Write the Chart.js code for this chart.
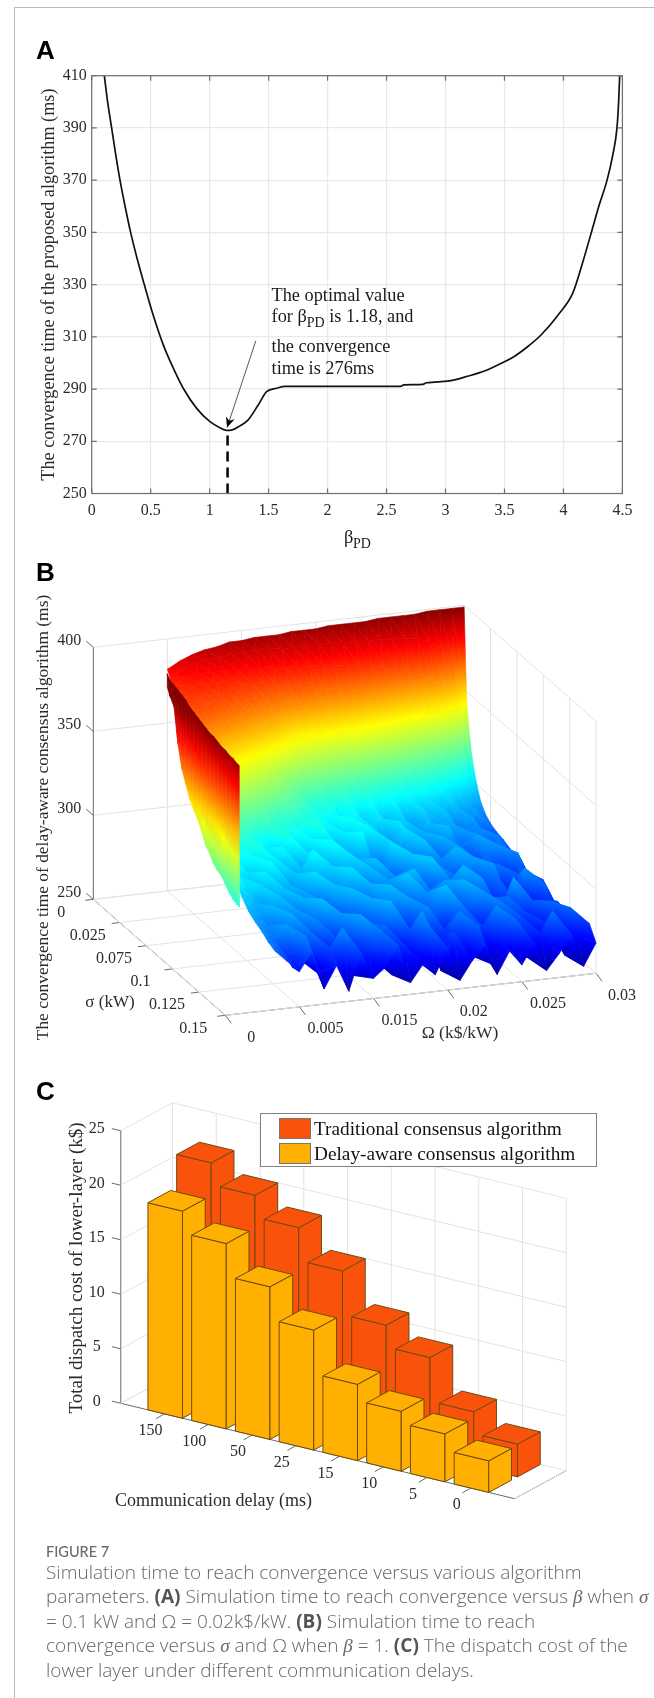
<!DOCTYPE html>
<html>
<head>
<meta charset="utf-8">
<script src="https://cdn.jsdelivr.net/npm/chart.js@4"></script>
<style>
html,body{margin:0;padding:0;background:#fff;}
body{position:relative;width:654px;height:1698px;overflow:hidden;}
canvas{position:absolute;left:0;filter:blur(.4px);}
#frame{position:absolute;left:14px;top:7px;right:0;bottom:0;border-left:1px solid #bdbdbd;border-top:1px solid #bdbdbd;}
.letter{position:absolute;left:36px;font:bold 26px "Liberation Sans",sans-serif;color:#000;line-height:26px;filter:blur(.3px);}
#legend{position:absolute;left:260px;top:1113px;width:335px;height:52px;border:1px solid #808080;background:#fff;font:19.3px "Liberation Serif",serif;color:#111;filter:blur(.35px);}
#legend div{position:absolute;left:53px;white-space:nowrap;line-height:20px;}
#legend i{position:absolute;left:-35px;top:-1px;width:32px;height:21px;border:1px solid #777;box-sizing:border-box;}
#fig{position:absolute;left:46px;top:1543px;font:500 14.5px "Lato",sans-serif;color:#6a6a6a;filter:blur(.3px);}
#cap{position:absolute;left:46px;top:1560px;font:300 19px/24px "Open Sans",sans-serif;color:#666;white-space:nowrap;filter:blur(.3px);}
#cap b{font-weight:700;color:#555;}
#cap em{font-family:"Liberation Serif",serif;}
</style>
</head>
<body>
<div id="frame"></div>
<div class="letter" style="top:37px">A</div>
<div class="letter" style="top:559px">B</div>
<div class="letter" style="top:1078px">C</div>
<canvas id="chartA" width="654" height="520" style="top:40px"></canvas>
<canvas id="chartB" width="654" height="504" style="top:556px"></canvas>
<canvas id="chartC" width="654" height="470" style="top:1060px"></canvas>
<div id="legend">
<div style="top:5px"><i style="background:#f9520b"></i>Traditional consensus algorithm</div>
<div style="top:30px"><i style="background:#ffb000"></i>Delay-aware consensus algorithm</div>
</div>
<div id="fig">FIGURE 7</div>
<div id="cap">Simulation time to reach convergence versus various algorithm<br>parameters. <b>(A)</b> Simulation time to reach convergence versus <em>β</em> when <em>σ</em><br>= 0.1 kW and Ω = 0.02k$/kW. <b>(B)</b> Simulation time to reach<br>convergence versus <em>σ</em> and Ω when <em>β</em> = 1. <b>(C)</b> The dispatch cost of the<br>lower layer under different communication delays.</div>
<script>
const serif='"Liberation Serif",serif';
const inkColor='#2b2b2b';

// ---- panel A
const betaValues=[0.107,0.135,0.169,0.203,0.24,0.283,0.33,0.385,0.446,0.508,0.607,0.692,0.776,0.89,1.003,1.087,1.144,1.186,1.257,1.327,1.412,1.483,1.568,1.638,2.0,2.613,2.648,2.807,2.84,3.02,3.195,3.336,3.478,3.58,3.69,3.81,3.955,4.08,4.16,4.237,4.3,4.37,4.42,4.454,4.468,4.477];
const convergenceTime=[410,400,390,380,370,360,350,340,330,320.3,306.9,298,290.3,282.6,277.5,275.2,274.2,274.3,275.9,278.2,283.9,289,290.3,291,291,291,291.6,291.8,292.4,293,295,297,300,302.4,306,310.7,318.4,326.8,338,350,360,370,380,390,400,410];
const betaTicks=[0,0.5,1,1.5,2,2.5,3,3.5,4,4.5];
const timeTicks=[250,270,290,310,330,350,370,390,410];
const optimalBeta=1.152;
const optimalTime=274.5;
const arrowStart=[1.392,308.5];
const noteLines=[[1.525,325.5,'The optimal value'],[1.525,317.5,'for β'],[1.525,306,'the convergence'],[1.525,297.5,'time is 276ms']];

// ---- panel B
const omegaTicks=['0','0.005','0.015','0.02','0.025','0.03'];
const sigmaTicks=['0','0.025','0.075','0.1','0.125','0.15'];
const surfaceTicks=[250,300,350,400];
const surfaceOmega=[.004,.005,.006,.007,.008,.009,.010,.011,.012,.013,.014,.015,.016,.017,.018,.019,.020,.021,.022,.023,.024,.025,.026,.027,.028,.029,.030];
const surfaceSigma=[0,.003,.0075,.012,.018,.024,.03,.0375,.045,.0525,.06,.0675,.075,.0825,.09,.0975,.105,.1125,.12,.1275,.135,.1425,.15];
const n=null;
const surfaceTime=[
[n,n,382,386,389,391,392,394,394,395,395,395,396,396,396,397,397,397,397,398,398,398,398,399,399,399,399],
[n,n,378,383,385,386,387,388,388,389,389,388,388,388,388,388,387,387,387,387,386,386,385,382,378,368,344],
[n,n,376,380,381,381,381,381,381,380,380,379,379,378,378,377,376,375,374,372,370,368,365,361,356,345,319],
[n,n,375,377,377,377,376,375,374,373,371,370,369,367,366,365,364,362,359,356,352,348,344,338,332,322,305],
[n,378,374,373,373,372,371,369,367,364,361,358,356,354,351,349,347,344,340,336,331,328,323,318,312,304,293],
[n,375,371,371,370,368,365,362,358,354,349,342,339,336,333,331,330,326,322,318,315,312,308,303,298,292,287],
[n,372,368,368,365,361,357,353,348,343,336,328,325,322,319,316,314,311,308,307,302,303,296,297,289,290,284],
[376,366,360,358,354,349,345,340,333,326,318,311,313,305,310,301,306,296,303,291,300,293,297,286,293,281,282],
[370,358,350,347,344,339,333,328,323,318,313,308,307,302,306,298,302,294,299,288,296,285,293,282,290,280,281],
[362,348,338,334,330,325,320,316,312,312,304,308,298,309,293,301,286,303,288,295,281,297,284,291,278,288,279],
[352,338,328,323,318,313,315,305,311,296,312,289,304,284,306,287,279,302,291,273,295,281,270,293,276,286,276],
[342,328,318,313,310,304,298,311,292,306,283,300,292,307,277,301,282,272,298,284,275,291,266,285,290,272,274],
[332,320,310,306,311,294,307,286,302,293,308,276,295,285,273,302,279,294,268,288,296,271,284,279,265,288,272],
[324,313,305,308,292,304,283,297,307,277,291,302,277,298,283,270,298,284,290,271,285,292,266,286,273,281,268],
[318,308,302,290,307,286,298,276,294,300,279,270,297,280,290,275,272,299,275,286,266,280,291,268,283,271,278],
[313,304,292,305,282,296,287,302,273,289,302,282,271,292,274,297,283,267,288,296,270,277,284,265,290,266,274],
[307,300,302,285,298,275,293,277,297,281,268,295,284,276,299,268,285,292,269,279,291,264,281,273,263,284,268],
[300,295,287,298,275,295,270,289,281,297,272,286,297,267,280,290,269,275,295,265,282,272,293,262,278,271,266],
[295,291,296,277,292,281,297,267,285,274,294,265,278,292,271,285,297,264,280,291,266,286,268,282,265,280,264],
[292,289,279,294,268,289,273,291,264,283,276,295,269,262,289,273,264,286,271,260,287,270,279,261,284,267,270],
[290,285,292,271,286,263,281,274,293,266,285,262,281,291,265,276,288,261,277,289,263,281,259,276,264,283,261],
[287,282,270,288,265,279,290,261,275,287,259,276,266,286,258,280,267,283,259,272,284,260,274,286,259,270,276],
[285,278,271,282,259,272,256,278,262,268,280,257,267,260,275,255,266,274,256,269,260,272,255,264,275,255,268]
];
// steep curtain along the low omega side of the surface
const curtainOmega=.0015;
const curtainSigma=[.063,.066,.0705,.075,.0795,.084,.0885,.093,.0975,.102,.1065,.111,.1155,.12,.1245,.129,.1335,.138,.1425,.1448];
const curtainTop=[412,410,409,408,407,406,404,403,402,401,400,399,399,398,397,397,396,396,395,395];
const curtainBottom=[404,400,396,376,363,356,349,345,341,336,330,327,323,321,320,317,314,312,311,311];

// ---- panel C
const delayLabels=['150','100','50','25','15','10','5','0'];
const traditionalCost=[22,20,18,15,11,9,5,3];
const delayAwareCost=[19,17,14,11,7,5.5,4.4,2.9];
const costTicks=[0,5,10,15,20,25];

// ---------- panel A chart
function boxPlugin(){
  return {id:'box',afterDatasetsDraw(chart){
    const c=chart.ctx,a=chart.chartArea,x=chart.scales.x,y=chart.scales.y;
    c.save();
    c.strokeStyle='#707070';c.lineWidth=1.2;
    c.strokeRect(a.left,a.top,a.right-a.left,a.bottom-a.top);
    c.beginPath();
    betaTicks.forEach(t=>{const p=x.getPixelForValue(t);c.moveTo(p,a.bottom);c.lineTo(p,a.bottom-5);c.moveTo(p,a.top);c.lineTo(p,a.top+5);});
    timeTicks.forEach(t=>{const p=y.getPixelForValue(t);c.moveTo(a.left,p);c.lineTo(a.left+5,p);c.moveTo(a.right,p);c.lineTo(a.right-5,p);});
    c.stroke();
    // arrow
    const x0=x.getPixelForValue(arrowStart[0]),y0=y.getPixelForValue(arrowStart[1]);
    const x1=x.getPixelForValue(optimalBeta-0.004),y1=y.getPixelForValue(optimalTime+.8);
    c.strokeStyle='#555';c.lineWidth=1;
    c.beginPath();c.moveTo(x0,y0);c.lineTo(x1,y1);c.stroke();
    const ang=Math.atan2(y1-y0,x1-x0);
    c.fillStyle='#000';
    c.beginPath();
    c.moveTo(x1,y1);
    c.lineTo(x1-11*Math.cos(ang-.42),y1-11*Math.sin(ang-.42));
    c.lineTo(x1-7*Math.cos(ang),y1-7*Math.sin(ang));
    c.lineTo(x1-11*Math.cos(ang+.42),y1-11*Math.sin(ang+.42));
    c.closePath();c.fill();
    // note
    c.fillStyle='#1a1a1a';c.textBaseline='middle';c.textAlign='left';
    c.font='18.3px '+serif;
    noteLines.forEach(l=>{
      const px=x.getPixelForValue(l[0]),py=y.getPixelForValue(l[1]);
      c.fillText(l[2],px,py);
      if(l[2]==='for β'){
        let w=c.measureText(l[2]).width;
        c.font='14px '+serif;c.fillText('PD',px+w,py+6);
        w+=c.measureText('PD').width;
        c.font='18.3px '+serif;c.fillText(' is 1.18, and',px+w,py);
      }
    });
    // x title
    c.fillText('β',344,498);
    c.font='14px '+serif;c.fillText('PD',353,504);
    c.restore();
  }};
}

new Chart(document.getElementById('chartA'),{
  type:'scatter',
  data:{datasets:[
    {data:betaValues.map((b,i)=>({x:b,y:convergenceTime[i]})),showLine:true,borderColor:'#111',borderWidth:1.7,pointRadius:0,cubicInterpolationMode:'monotone'},
    {data:[{x:optimalBeta,y:250},{x:optimalBeta,y:optimalTime}],showLine:true,borderColor:'#000',borderWidth:2.5,borderDash:[10,6],pointRadius:0}
  ]},
  options:{
    responsive:false,animation:false,
    layout:{padding:{top:35.7,right:31.6}},
    plugins:{legend:{display:false},tooltip:{enabled:false}},
    scales:{
      x:{type:'linear',min:0,max:4.5,afterFit:s=>{s.height=66.5;},
        afterBuildTicks:s=>{s.ticks=betaTicks.map(v=>({value:v}));},
        grid:{color:'#e9e9e9',lineWidth:1.2,drawTicks:false},border:{display:false},
        ticks:{color:inkColor,font:{family:serif,size:16},padding:8,maxRotation:0,callback:v=>String(v)}},
      y:{type:'linear',min:250,max:410,afterFit:s=>{s.width=91.7;},
        afterBuildTicks:s=>{s.ticks=timeTicks.map(v=>({value:v}));},
        grid:{color:'#e9e9e9',lineWidth:1.2,drawTicks:false},border:{display:false},
        title:{display:true,text:'The convergence time of the proposed algorithm (ms)',color:inkColor,font:{family:serif,size:18.2},padding:{top:38,bottom:0}},
        ticks:{color:inkColor,font:{family:serif,size:16},padding:5}}
    }
  },
  plugins:[boxPlugin()]
});

// ---------- helpers for the two 3D panels
function lineSet(a,b,color,width){
  return {data:[{x:a[0],y:a[1]},{x:b[0],y:b[1]}],showLine:true,borderColor:color,borderWidth:width,pointRadius:0};
}
function flatScales(top,height){
  return {
    x:{type:'linear',display:false,min:0,max:654},
    y:{type:'linear',display:false,min:top,max:top+height,reverse:true}
  };
}
function jet(t){
  t=Math.min(1,Math.max(0,t));
  const f=v=>Math.round(255*Math.min(1,Math.max(0,1.5-Math.abs(4*t-v))));
  return 'rgb('+f(3)+','+f(2)+','+f(1)+')';
}
const timeColor=z=>jet((z-250)/150);

// gouraud style triangle, the gradient follows the time value across it
function fillTriangle(c,p,q,r){
  const e1x=q.x-p.x,e1y=q.y-p.y,e2x=r.x-p.x,e2y=r.y-p.y;
  const d1=q.z-p.z,d2=r.z-p.z;
  const det=e1x*e2y-e1y*e2x;
  let style;
  const pts=[p,q,r].sort((a,b)=>a.z-b.z);
  const lo=pts[0].z,hi=pts[2].z;
  if(Math.abs(det)<.01||hi-lo<.2){
    style=timeColor((lo+hi)/2);
  }else{
    const gx=(d1*e2y-d2*e1y)/det,gy=(d2*e1x-d1*e2x)/det,m=gx*gx+gy*gy;
    const g=c.createLinearGradient(pts[0].x,pts[0].y,pts[0].x+gx*(hi-lo)/m,pts[0].y+gy*(hi-lo)/m);
    for(let k=0;k<=6;k++) g.addColorStop(k/6,timeColor(lo+(hi-lo)*k/6));
    style=g;
  }
  c.fillStyle=style;c.strokeStyle=style;c.lineWidth=.6;
  c.beginPath();c.moveTo(p.x,p.y);c.lineTo(q.x,q.y);c.lineTo(r.x,r.y);c.closePath();
  c.fill();c.stroke();
}

// text placed in page coordinates through the chart's scales
function serifText(chart,text,x,y,size,rot){
  const c=chart.ctx;
  c.save();
  c.translate(chart.scales.x.getPixelForValue(x),chart.scales.y.getPixelForValue(y));
  if(rot) c.rotate(rot);
  c.font=size+'px '+serif;
  c.fillStyle=inkColor;c.textAlign='center';c.textBaseline='middle';
  c.fillText(text,0,0);
  c.restore();
}

// ---------- panel B chart
const maxOmega=.03,maxSigma=.15;
function projectB(omega,sigma,time){
  const a=omega/maxOmega,s=sigma/maxSigma;
  return [93.3+370.8*a+132*s,899.3-42*a+116*s-252*(time-250)/150];
}
const lightLine='#e3e3e3',darkLine='#6a6a6a';
const setsB=[];
for(let k=0;k<=5;k++){
  const a=k*maxOmega/5,s=k*maxSigma/5;
  setsB.push(lineSet(projectB(a,0,250),projectB(a,0,400),k?lightLine:darkLine,1));
  setsB.push(lineSet(projectB(maxOmega,s,250),projectB(maxOmega,s,400),lightLine,1));
  setsB.push(lineSet(projectB(a,0,250),projectB(a,maxSigma,250),lightLine,1));
  setsB.push(lineSet(projectB(0,s,250),projectB(maxOmega,s,250),lightLine,1));
  // axis ticks
  const p=projectB(0,s,250),q=projectB(a,maxSigma,250);
  setsB.push(lineSet(p,[p[0]-8,p[1]+1],darkLine,1));
  setsB.push(lineSet(q,[q[0]+6,q[1]+8],darkLine,1));
}
surfaceTicks.forEach(t=>{
  setsB.push(lineSet(projectB(0,0,t),projectB(maxOmega,0,t),lightLine,1));
  setsB.push(lineSet(projectB(maxOmega,0,t),projectB(maxOmega,maxSigma,t),lightLine,1));
  const p=projectB(0,0,t);
  setsB.push(lineSet(p,[p[0]-7,p[1]-6],darkLine,1));
});
setsB.push(lineSet(projectB(0,0,250),projectB(0,maxSigma,250),darkLine,1));
setsB.push(lineSet(projectB(0,maxSigma,250),projectB(maxOmega,maxSigma,250),darkLine,1));

const surfacePoints=[];
surfaceTime.forEach((row,j)=>row.forEach((z,i)=>{
  const p=z===null?[NaN,NaN]:projectB(surfaceOmega[i],surfaceSigma[j],z);
  surfacePoints.push({x:p[0],y:p[1],z:z});
}));
const curtainPoints=[];
curtainSigma.forEach((s,i)=>{
  const t=projectB(curtainOmega,s,curtainTop[i]),b=projectB(curtainOmega,s,curtainBottom[i]);
  curtainPoints.push({x:t[0],y:t[1],z:curtainTop[i]},{x:b[0],y:b[1],z:curtainBottom[i]});
});
const surfaceIndex=setsB.length;
setsB.push({data:surfacePoints,pointRadius:0,showLine:false});
setsB.push({data:curtainPoints,pointRadius:0,showLine:false});

const surfacePlugin={id:'surface',afterDatasetsDraw(chart){
  const c=chart.ctx;
  const vertex=(set,i)=>{
    const el=chart.getDatasetMeta(set).data[i],z=chart.data.datasets[set].data[i].z;
    return z===null?null:{x:el.x,y:el.y,z:z};
  };
  const tri=(p,q,r)=>{if(p&&q&&r) fillTriangle(c,p,q,r);};
  const quad=(a,b,d,e)=>{
    if(!a){tri(b,e,d);return;}
    tri(a,b,e);tri(a,e,d);
  };
  const cols=surfaceOmega.length,rows=surfaceSigma.length;
  // far to near: low sigma first, high omega first
  for(let j=0;j<rows-1;j++){
    for(let i=cols-2;i>=0;i--){
      quad(vertex(surfaceIndex,j*cols+i),vertex(surfaceIndex,j*cols+i+1),
        vertex(surfaceIndex,(j+1)*cols+i),vertex(surfaceIndex,(j+1)*cols+i+1));
    }
  }
  for(let i=0;i<curtainSigma.length-1;i++){
    quad(vertex(surfaceIndex+1,2*i),vertex(surfaceIndex+1,2*i+1),
      vertex(surfaceIndex+1,2*i+2),vertex(surfaceIndex+1,2*i+3));
  }
  surfaceTicks.forEach(t=>{const p=projectB(0,0,t);
    serifText(chart,String(t),p[0]-24,p[1]-7,16);});
  sigmaTicks.forEach((t,k)=>{const p=projectB(0,k*maxSigma/5,250);
    serifText(chart,t,p[0]-32,p[1]+13,16);});
  omegaTicks.forEach((t,k)=>{const p=projectB(k*maxOmega/5,maxSigma,250);
    serifText(chart,t,p[0]+26,p[1]+22,16);});
  serifText(chart,'The convergence time of delay-aware consensus algorithm (ms)',43.8,817.5,17.4,-Math.PI/2);
  serifText(chart,'σ (kW)',110,1003,17);
  serifText(chart,'Ω (k$/kW)',460,1033,17.5);
}};

new Chart(document.getElementById('chartB'),{
  type:'scatter',
  data:{datasets:setsB},
  options:{responsive:false,animation:false,parsing:false,normalized:true,
    plugins:{legend:{display:false},tooltip:{enabled:false}},
    scales:flatScales(556,504)},
  plugins:[surfacePlugin]
});

// ---------- panel C chart
const maxDelaySlots=9;
function projectC(u,v,cost){
  return [120.8+43.75*u+51.7*v,1403.3+10.6*u-28*v-10.9*cost];
}
const barWidth=.79,barDepth=.44;
const rowOffset={traditional:.556,delayAware:0};
function barVertices(i,cost,v0){
  const u0=.62+i,u1=u0+barWidth,v1=v0+barDepth;
  return [[u0,v0,0],[u1,v0,0],[u1,v1,0],[u0,v0,cost],[u1,v0,cost],[u1,v1,cost],[u0,v1,cost]]
    .map(p=>{const q=projectC(p[0],p[1],p[2]);return {x:q[0],y:q[1]};});
}
const setsC=[];
for(let k=0;k<=maxDelaySlots;k++){
  setsC.push(lineSet(projectC(k,1,0),projectC(k,1,25),lightLine,1));
  setsC.push(lineSet(projectC(k,0,0),projectC(k,1,0),lightLine,1));
}
costTicks.forEach(t=>{
  setsC.push(lineSet(projectC(0,0,t),projectC(0,1,t),lightLine,1));
  setsC.push(lineSet(projectC(0,1,t),projectC(maxDelaySlots,1,t),lightLine,1));
  const p=projectC(0,0,t);
  setsC.push(lineSet(p,[p[0]-9,p[1]-2.2],darkLine,1));
});
setsC.push(lineSet(projectC(0,0,0),projectC(0,0,25),darkLine,1));
setsC.push(lineSet(projectC(0,0,0),projectC(maxDelaySlots,0,0),darkLine,1));
setsC.push(lineSet(projectC(maxDelaySlots,0,0),projectC(maxDelaySlots,1,0),darkLine,1));
delayLabels.forEach((l,i)=>{
  const p=projectC(i+1,0,0);
  setsC.push(lineSet(p,[p[0]-8.4,p[1]+4.7],darkLine,1));
});
const barSetIndex=setsC.length;
setsC.push({label:'Traditional consensus algorithm',data:traditionalCost.flatMap((v,i)=>barVertices(i,v,rowOffset.traditional)),pointRadius:0,showLine:false,backgroundColor:'#f9520b'});
setsC.push({label:'Delay-aware consensus algorithm',data:delayAwareCost.flatMap((v,i)=>barVertices(i,v,rowOffset.delayAware)),pointRadius:0,showLine:false,backgroundColor:'#ffb000'});

const barsPlugin={id:'bars3d',afterDatasetsDraw(chart){
  const c=chart.ctx;
  c.save();
  [barSetIndex,barSetIndex+1].forEach(set=>{
    const els=chart.getDatasetMeta(set).data,color=chart.data.datasets[set].backgroundColor;
    for(let i=0;i<delayLabels.length;i++){
      const v=k=>els[i*7+k];
      [[0,1,4,3],[1,2,5,4],[3,4,5,6]].forEach(face=>{
        c.beginPath();
        face.forEach((k,m)=>{m?c.lineTo(v(k).x,v(k).y):c.moveTo(v(k).x,v(k).y);});
        c.closePath();
        c.fillStyle=color;c.fill();
        c.strokeStyle='#6e4a12';c.lineWidth=1;c.stroke();
      });
    }
  });
  c.restore();
  costTicks.forEach(t=>{const p=projectC(0,0,t);
    serifText(chart,String(t),p[0]-24,p[1]-2,16);});
  delayLabels.forEach((l,i)=>{const p=projectC(i+1,0,0);
    serifText(chart,l,p[0]-14,p[1]+17,16);});
  serifText(chart,'Total dispatch cost of lower-layer (k$)',77,1268,19,-Math.PI/2);
  serifText(chart,'Communication delay (ms)',213.5,1501,18);
}};

new Chart(document.getElementById('chartC'),{
  type:'scatter',
  data:{datasets:setsC},
  options:{responsive:false,animation:false,parsing:false,normalized:true,
    plugins:{legend:{display:false},tooltip:{enabled:false}},
    scales:flatScales(1060,470)},
  plugins:[barsPlugin]
});
</script>
</body>
</html>
